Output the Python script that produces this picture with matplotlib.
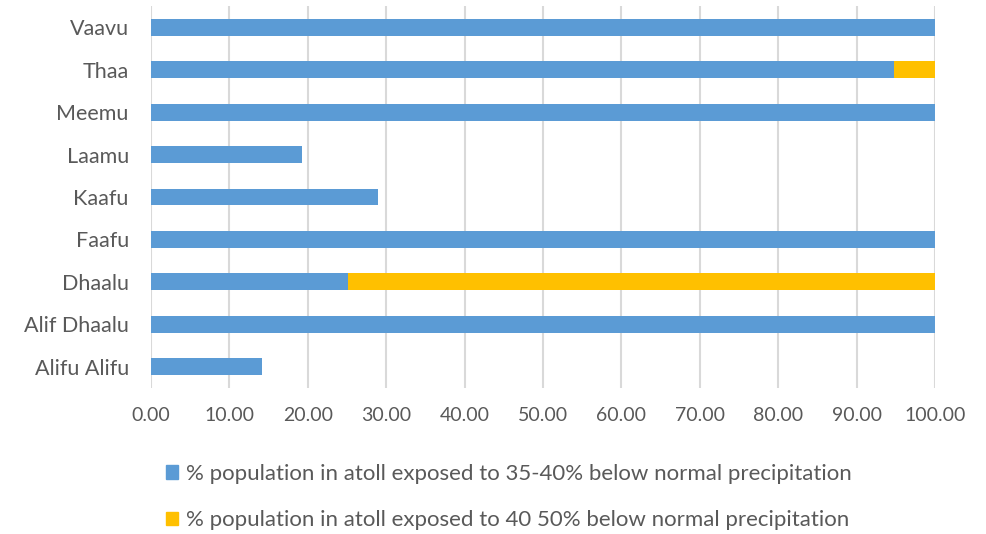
import matplotlib
matplotlib.use("Agg")
import matplotlib.pyplot as plt
from matplotlib.patches import Patch

plt.rcParams['font.family'] = ['Lato', 'DejaVu Sans']

atolls = ["Alifu Alifu", "Alif Dhaalu", "Dhaalu", "Faafu", "Kaafu", "Laamu", "Meemu", "Thaa", "Vaavu"]
pct_35_40 = [14.1, 100.0, 25.1, 100.0, 28.9, 19.3, 100.0, 94.8, 100.0]
pct_40_50 = [0.0, 0.0, 74.9, 0.0, 0.0, 0.0, 0.0, 5.2, 0.0]
series_labels = ["% population in atoll exposed to 35-40% below normal precipitation",
                 "% population in atoll exposed to 40 50% below normal precipitation"]
xticks = [0, 10, 20, 30, 40, 50, 60, 70, 80, 90, 100]

blue = "#5B9BD5"
gold = "#FFC000"
txt = "#595959"

fig = plt.figure(figsize=(9.86, 5.34), dpi=100)
ax = fig.add_axes([151/986, 1 - 388/534, (935-151)/986, (388-6)/534])

y = range(len(atolls))
ax.barh(y, pct_35_40, height=0.4, color=blue, zorder=3)
ax.barh(y, pct_40_50, left=pct_35_40, height=0.4, color=gold, zorder=3)

ax.set_xlim(0, 100)
ax.set_ylim(-0.5, len(atolls) - 0.5)
ax.set_xticks(xticks)
ax.set_xticklabels([f"{v:.2f}" for v in xticks])
ax.set_yticks(list(y))
ax.set_yticklabels(atolls)
ax.grid(axis='x', color='#D9D9D9', linewidth=1.5, zorder=0)
for s in ax.spines.values():
    s.set_visible(False)
ax.tick_params(axis='both', length=0, colors=txt)
ax.tick_params(axis='x', pad=14, labelsize=14)
ax.tick_params(axis='y', pad=16, labelsize=15.5)

handles = [Patch(color=blue), Patch(color=gold)]
fig.legend(handles, series_labels, loc='upper left', bbox_to_anchor=(166/986, 1 - 464/534),
           frameon=False, fontsize=16, labelcolor=txt, handlelength=0.55, handleheight=0.55,
           handletextpad=0.35, labelspacing=1.18, borderpad=0, borderaxespad=0)

fig.savefig("out.png", dpi=100)
